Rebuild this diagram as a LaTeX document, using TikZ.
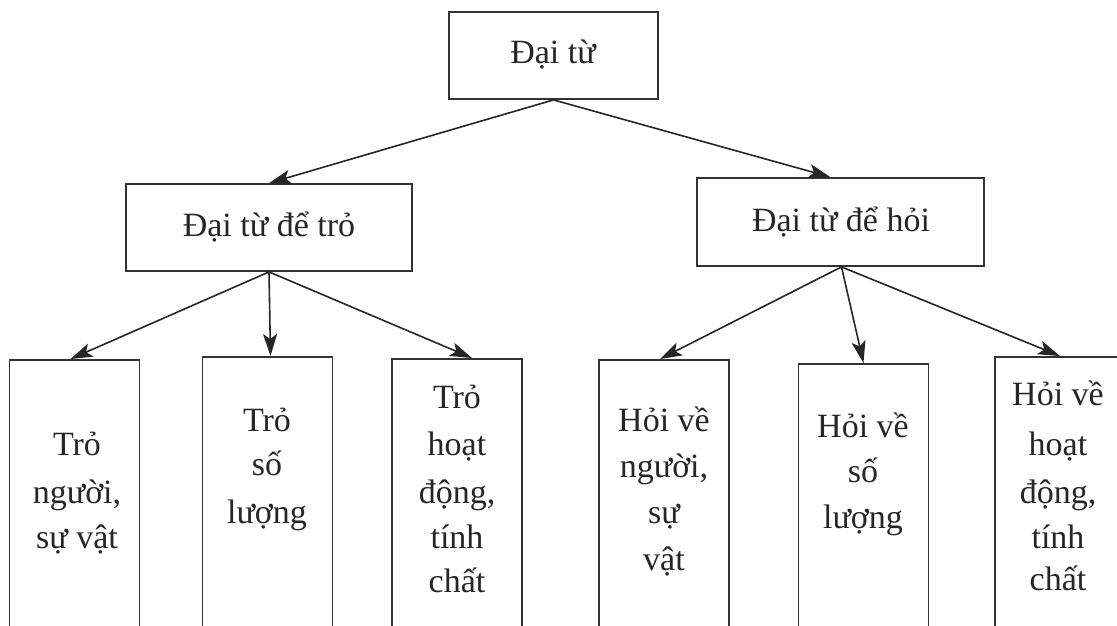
\documentclass[tikz,border=0pt]{standalone}
\usepackage{fontspec}
\setmainfont{Liberation Serif}
\usetikzlibrary{arrows.meta}
\tikzset{
  box/.style={draw=black!80, line width=1.8pt, rectangle, inner sep=0pt, fill=white},
  leaf/.style={box, anchor=north, minimum width=130pt, minimum height=360pt},
  lbl/.style={anchor=base, inner sep=0pt, text=black!85, font=\fontsize{34}{40}\selectfont},
  arr/.style={draw=black!85, line width=1.6pt, -{Stealth[length=22pt,width=14pt,inset=5pt]}}
}
\begin{document}
\begin{tikzpicture}[x=1pt,y=-1pt]
\useasboundingbox (0,0) rectangle (1117,625);
\clip (0,0) rectangle (1117,625);
% boxes
\node[box, minimum width=209pt, minimum height=87pt] (top) at (553.5,55.5) {};
\node[box, minimum width=286pt, minimum height=87pt] (lmid) at (269,227.5) {};
\node[box, minimum width=287pt, minimum height=88pt] (rmid) at (840.5,222) {};
\node[leaf] (b1) at (74.5,359) {};
\node[leaf] (b2) at (267.5,356) {};
\node[leaf] (b3) at (457,358) {};
\node[leaf] (b4) at (664,359) {};
\node[leaf] (b5) at (863.5,363) {};
\node[leaf] (b6) at (1060,356) {};
% labels
\node[lbl] (ttop) at (553,63) {Đại từ};
\node[lbl] (tl) at (269,236) {Đại từ để trỏ};
\node[lbl] (tr) at (841,231) {Đại từ để hỏi};
\node[lbl] (b1a) at (77,455) {Trỏ};
\node[lbl] (b1b) at (77,503) {người,};
\node[lbl] (b1c) at (77,548) {sự vật};
\node[lbl] (b2a) at (267,431) {Trỏ};
\node[lbl] (b2b) at (267,475) {số};
\node[lbl] (b2c) at (267,523) {lượng};
\node[lbl] (b3a) at (457,408) {Trỏ};
\node[lbl] (b3b) at (457,455) {hoạt};
\node[lbl] (b3c) at (457,503) {động,};
\node[lbl] (b3d) at (457,548) {tính};
\node[lbl] (b3e) at (457,592) {chất};
\node[lbl] (b4a) at (664,431) {Hỏi về};
\node[lbl] (b4b) at (664,477) {người,};
\node[lbl] (b4c) at (664,523) {sự};
\node[lbl] (b4d) at (664,570) {vật};
\node[lbl] (b5a) at (863,437) {Hỏi về};
\node[lbl] (b5b) at (863,482) {số};
\node[lbl] (b5c) at (863,528) {lượng};
\node[lbl] (b6a) at (1058,405) {Hỏi về};
\node[lbl] (b6b) at (1058,455) {hoạt};
\node[lbl] (b6c) at (1058,503) {động,};
\node[lbl] (b6d) at (1058,548) {tính};
\node[lbl] (b6e) at (1058,590) {chất};
% connectors
\draw[arr] (top.south) -- (lmid.north);
\draw[arr] (top.south) -- ([xshift=-10pt]rmid.north);
\draw[arr] (lmid.south) -- ([xshift=-4pt]b1.north);
\draw[arr] (lmid.south) -- ([xshift=3pt]b2.north);
\draw[arr] (lmid.south) -- ([xshift=15pt]b3.north);
\draw[arr] ([xshift=1pt]rmid.south) -- ([xshift=-4pt]b4.north);
\draw[arr] ([xshift=1pt]rmid.south) -- (b5.north);
\draw[arr] ([xshift=1pt]rmid.south) -- (b6.north);
\end{tikzpicture}
\end{document}
